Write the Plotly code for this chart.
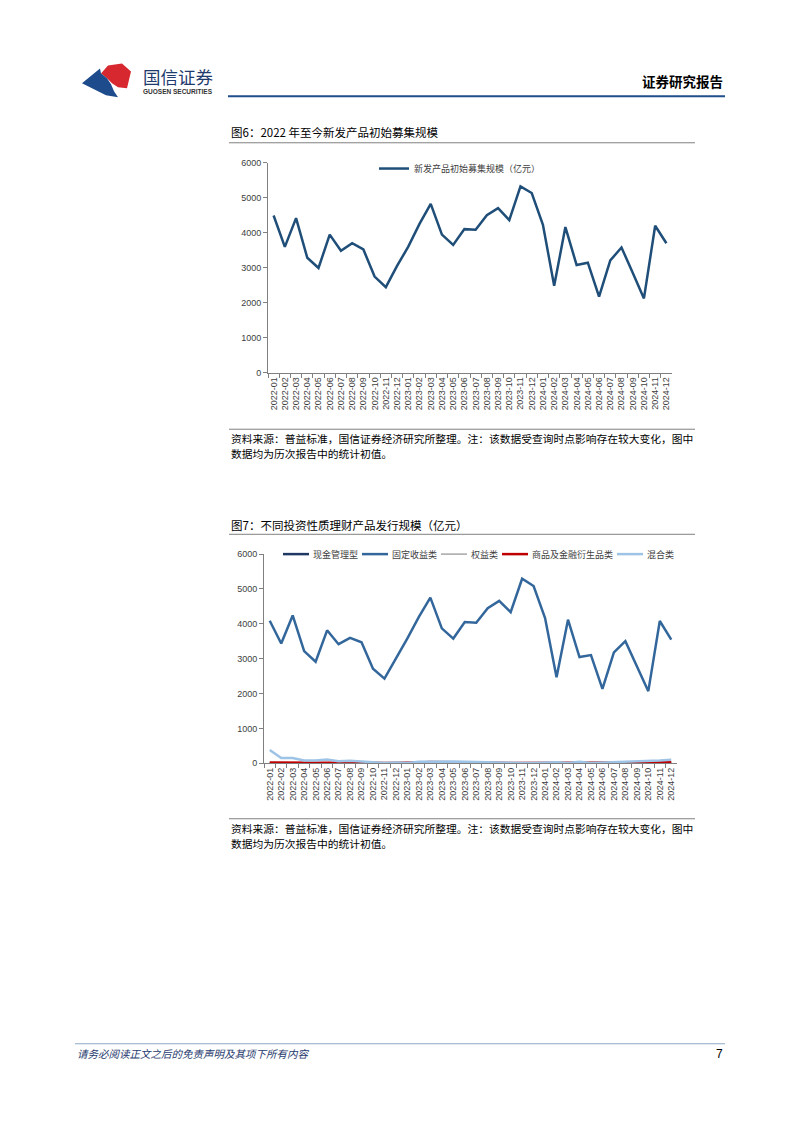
import plotly.graph_objects as go

W, H = 802, 1133

months = [f"{y}-{m:02d}" for y in (2022, 2023, 2024) for m in range(1, 13)]

# Chart 1: new product initial raised scale (亿元)
new_issue = [4490, 3594, 4415, 3283, 2990, 3943, 3481, 3698, 3519, 2745, 2443, 3050,
             3600, 4250, 4820, 3943, 3650, 4100, 4085, 4500, 4700, 4360, 5320, 5132,
             4226, 2481, 4160, 3075, 3141, 2170, 3208, 3575, 2858, 2123, 4198, 3698]

# Chart 2: by investment nature (亿元)
cash_mgmt = [3, 2, 2, 1, 1, 1, 1, 1, 1, 0, 0, 0,
             0, 0, 1, 1, 1, 0, 0, 0, 0, 0, 0, 0,
             0, 0, 0, 0, 0, 0, 0, 0, 0, 0, 1, 1]
fixed_income = [4089, 3435, 4241, 3216, 2913, 3814, 3416, 3596, 3472, 2713, 2429, 2990,
                3580, 4200, 4753, 3871, 3577, 4051, 4032, 4450, 4658, 4336, 5294, 5085,
                4165, 2467, 4118, 3046, 3102, 2135, 3178, 3501, 2789, 2068, 4080, 3548]
equity = [8, 6, 6, 4, 4, 4, 3, 3, 3, 2, 2, 2,
          2, 3, 3, 3, 3, 2, 2, 2, 2, 1, 1, 1,
          1, 2, 2, 2, 2, 2, 2, 2, 2, 2, 3, 3]
commodity = [20, 15, 30, 20, 15, 15, 20, 25, 20, 15, 10, 10,
             10, 25, 35, 35, 30, 25, 25, 20, 15, 10, 10, 10,
             10, 15, 20, 20, 15, 15, 20, 25, 25, 20, 25, 30]
mixed = [380, 150, 150, 80, 80, 110, 60, 70, 50, 30, 10, 20,
         10, 40, 50, 60, 50, 40, 30, 20, 10, 5, 5, 10,
         20, 30, 10, 40, 10, 20, 20, 40, 40, 50, 80, 100]

series2 = [
    ("现金管理型", cash_mgmt, "#1f3864", 2.5),
    ("固定收益类", fixed_income, "#33679c", 2.5),
    ("权益类", equity, "#a6a6a6", 1.5),
    ("商品及金融衍生品类", commodity, "#c00000", 2.5),
    ("混合类", mixed, "#9dc3e6", 2.5),
]

FONT = "Liberation Sans, Noto Sans CJK SC, sans-serif"
CJK = "Noto Sans CJK SC, sans-serif"


def px(x):
    return x / W


def py(y):
    return 1 - y / H


fig = go.Figure()

fig.add_trace(go.Scatter(x=months, y=new_issue, mode="lines", name="新发产品初始募集规模（亿元）",
                         line=dict(color="#1f4e79", width=2.5), xaxis="x", yaxis="y",
                         showlegend=True))

for name, vals, color, wd in series2:
    fig.add_trace(go.Scatter(x=months, y=vals, mode="lines", name=name,
                             line=dict(color=color, width=wd), xaxis="x2", yaxis="y2",
                             showlegend=False))

axis_common = dict(type="category", tickangle=-90, tickson="boundaries", ticks="outside",
                   ticklen=4, tickcolor="#808080", showline=True, linecolor="#808080",
                   linewidth=1, showgrid=False, zeroline=False,
                   tickfont=dict(family=FONT, size=9, color="#404040"))
yaxis_common = dict(range=[0, 6000], dtick=1000, ticks="outside", ticklen=4,
                    tickcolor="#808080", showline=True, linecolor="#808080", linewidth=1,
                    showgrid=False, zeroline=False,
                    tickfont=dict(family=FONT, size=9, color="#404040"))

fig.update_layout(
    width=W, height=H, autosize=False,
    margin=dict(l=0, r=0, t=0, b=0),
    paper_bgcolor="white", plot_bgcolor="white",
    font=dict(family=FONT),
    xaxis=dict(domain=[px(268), px(672)], anchor="y", range=[-0.5, 35.5], **axis_common),
    yaxis=dict(domain=[py(371), py(159)], anchor="x", **yaxis_common),
    xaxis2=dict(domain=[px(264), px(677)], anchor="y2", range=[-0.5, 35.5], **axis_common),
    yaxis2=dict(domain=[py(765), py(554)], anchor="x2", **yaxis_common),
    legend=dict(x=px(374), y=py(165), xanchor="left", yanchor="middle",
                bgcolor="rgba(0,0,0,0)", font=dict(family=CJK, size=9, color="#404040"),
                itemwidth=30),
)

shapes = []
annotations = []


def text(x, y, s, size, color="#000000", anchor="left", family=CJK, bold=False, italic=False):
    if bold:
        s = f"<b>{s}</b>"
    if italic:
        s = f"<i>{s}</i>"
    annotations.append(dict(x=px(x), y=py(y), xref="paper", yref="paper", text=s,
                            showarrow=False, xanchor=anchor, yanchor="middle",
                            font=dict(family=family, size=size, color=color)))


def hline(x0, x1, y, color, width):
    shapes.append(dict(type="line", xref="paper", yref="paper", x0=px(x0), x1=px(x1),
                       y0=py(y), y1=py(y), line=dict(color=color, width=width)))


def path(pts, color):
    d = "M " + " L ".join(f"{px(a):.5f},{py(b):.5f}" for a, b in pts) + " Z"
    shapes.append(dict(type="path", xref="paper", yref="paper", path=d,
                       fillcolor=color, line=dict(width=0)))


# Header logo (decorative)
path([(101, 69), (108, 61), (122, 59), (131, 67), (127, 84), (118, 83), (112, 79),
      (107, 74)], "#d7282f")
path([(82, 79), (100, 64), (101, 69), (107, 74), (111, 80), (114, 87), (118, 93),
      (106, 91)], "#1e4b8c")
text(141, 72, "国信证券", 17.5, "#1f3b6e")
text(141, 87, "<b>GUOSEN SECURITIES</b>", 6.5, "#333333", family=FONT)
text(725, 77, "证券研究报告", 13.5, "#000000", anchor="right", bold=True)
hline(228, 725, 92, "#1f4e8c", 2)

SRC1 = "资料来源：普益标准，国信证券经济研究所整理。注：该数据受查询时点影响存在较大变化，图中"
SRC2 = "数据均为历次报告中的统计初值。"

# Chart 1 title & source
text(229, 128, "图6：2022 年至今新发产品初始募集规模", 11.5, "#000000")
hline(229, 695, 139, "#808080", 1)
hline(229, 695, 428, "#808080", 1)
text(229, 437, SRC1, 10.75, "#000000")
text(229, 452, SRC2, 10.75, "#000000")

# Chart 2 title & source
text(229, 525, "图7：不同投资性质理财产品发行规模（亿元）", 11.5, "#000000")
hline(229, 695, 534, "#808080", 1)
hline(229, 695, 821, "#808080", 1)
text(229, 831, SRC1, 10.75, "#000000")
text(229, 846, SRC2, 10.75, "#000000")

# Chart 2 legend (custom, compact)
x = 283
for name, vals, color, wd in series2:
    hline(x, x + 26, 554, color, wd)
    text(x + 28, 554, name, 9, "#404040")
    x += 26 + 3 + 9 * len(name) + 5

# Footer
hline(75, 725, 1048, "#8ea9c8", 1)
text(75, 1058, "请务必阅读正文之后的免责声明及其项下所有内容", 10.5, "#1f3b6e", italic=True)
text(725, 1058, "7", 12, "#000000", anchor="right", family=FONT)

fig.update_layout(shapes=shapes, annotations=annotations)

fig.write_html("out.html")
